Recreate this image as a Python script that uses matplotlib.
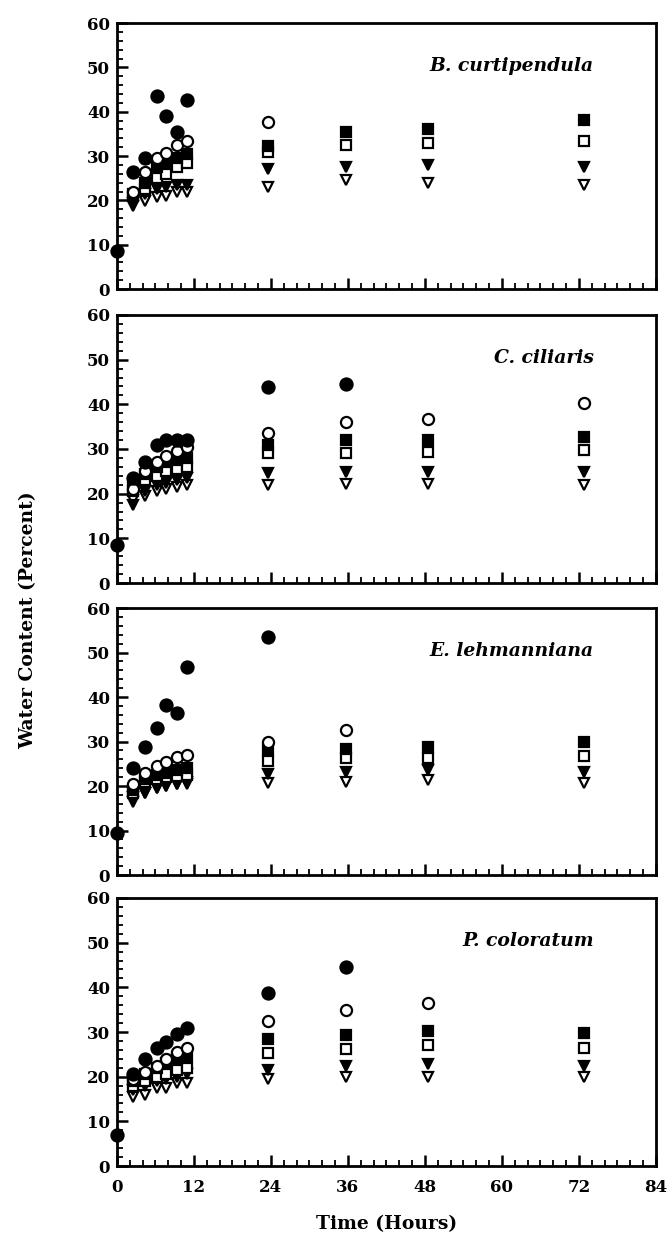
import numpy as np
import matplotlib
matplotlib.use("Agg")
import matplotlib.pyplot as plt
from matplotlib.ticker import MultipleLocator

nan = np.nan

# sampling times (hours)
hours = [0, 2.5, 4.4, 6.2, 7.6, 9.3, 11.0, 23.5, 35.7, 48.5, 72.8]

species = ["B. curtipendula", "C. ciliaris", "E. lehmanniana", "P. coloratum"]

# B. curtipendula
bc_fc = [8.5, 26.5, 29.5, 43.5, 39.0, 35.5, 42.7, nan, nan, nan, nan]
bc_oc = [nan, 22.0, 26.5, 29.5, 30.8, 32.5, 33.5, 37.7, nan, nan, nan]
bc_fs = [nan, 21.5, 24.0, 27.5, 28.5, 29.5, 30.5, 32.3, 35.5, 36.2, 38.2]
bc_os = [nan, 21.0, 22.5, 25.0, 26.0, 27.5, 28.5, 31.0, 32.5, 33.0, 33.3]
bc_ft = [nan, 18.8, 21.5, 22.5, 23.0, 23.5, 23.5, 27.0, 27.5, 28.0, 27.5]
bc_ot = [nan, 19.5, 19.8, 20.8, 21.0, 21.8, 22.0, 23.0, 24.5, 24.0, 23.5]

# C. ciliaris
cc_fc = [8.4, 23.5, 27.0, 30.8, 32.0, 32.0, 32.0, 43.9, 44.5, nan, nan]
cc_oc = [nan, 21.0, 25.0, 27.0, 28.5, 29.5, 30.5, 33.5, 36.0, 36.8, 40.4]
cc_fs = [nan, 21.5, 24.5, 26.0, 27.0, 27.5, 28.0, 31.0, 32.0, 32.1, 32.7]
cc_os = [nan, 20.5, 23.0, 24.0, 25.0, 25.5, 26.0, 29.0, 29.1, 29.4, 29.7]
cc_ft = [nan, 17.5, 20.5, 22.0, 22.5, 23.0, 23.5, 24.7, 24.9, 24.9, 24.9]
cc_ot = [nan, 18.5, 19.5, 20.5, 21.0, 21.5, 22.0, 21.9, 22.1, 22.1, 21.9]

# E. lehmanniana
el_fc = [9.5, 24.1, 28.8, 33.1, 38.3, 36.5, 46.8, 53.6, nan, nan, nan]
el_oc = [nan, 20.5, 23.0, 24.4, 25.4, 26.5, 26.9, 29.9, 32.7, nan, nan]
el_fs = [nan, 19.0, 21.5, 22.5, 23.0, 23.5, 24.0, 28.0, 28.4, 28.8, 29.9]
el_os = [nan, 18.5, 21.0, 21.5, 22.0, 22.3, 22.5, 25.6, 26.2, 26.4, 26.7]
el_ft = [nan, 16.5, 18.5, 19.5, 20.0, 20.5, 21.0, 22.8, 23.2, 23.5, 23.2]
el_ot = [nan, 17.5, 18.5, 19.5, 20.0, 20.5, 20.5, 20.7, 20.9, 21.3, 20.7]

# P. coloratum
pc_fc = [7.0, 20.6, 24.0, 26.4, 27.7, 29.6, 31.0, 38.7, 44.5, nan, nan]
pc_oc = [nan, 19.5, 21.0, 22.5, 24.0, 25.5, 26.5, 32.4, 35.0, 36.6, nan]
pc_fs = [nan, 19.0, 20.5, 22.0, 23.0, 24.0, 24.5, 28.4, 29.4, 30.3, 29.7]
pc_os = [nan, 18.0, 19.0, 20.0, 20.5, 21.5, 22.0, 25.3, 26.2, 27.1, 26.4]
pc_ft = [nan, 17.0, 18.0, 19.0, 19.5, 20.0, 20.5, 21.5, 22.4, 22.8, 22.3]
pc_ot = [nan, 15.5, 16.0, 17.5, 17.5, 18.5, 18.5, 19.5, 19.9, 20.0, 20.0]

panels = [
    (bc_ot, bc_ft, bc_os, bc_fs, bc_oc, bc_fc),
    (cc_ot, cc_ft, cc_os, cc_fs, cc_oc, cc_fc),
    (el_ot, el_ft, el_os, el_fs, el_oc, el_fc),
    (pc_ot, pc_ft, pc_os, pc_fs, pc_oc, pc_fc),
]

# marker, filled?, size  (same order as the tuples above)
styles = [("v", False, 7.5), ("v", True, 7.5), ("s", False, 6.5),
          ("s", True, 6.5), ("o", False, 8.0), ("o", True, 8.7)]

# axes boxes in figure fraction (bottom, height)
rows = [(0.7671, 0.2143), (0.5302, 0.2160), (0.2949, 0.2151), (0.0604, 0.2160)]
left, width = 0.175, 0.807

fig = plt.figure(figsize=(6.68, 12.41), dpi=100)
serif = "DejaVu Serif"

for i, (series, (bot, h)) in enumerate(zip(panels, rows)):
    ax = fig.add_axes([left, bot, width, h])
    for vals, (m, filled, ms) in zip(series, styles):
        ax.plot(hours, vals, linestyle="none", marker=m, markersize=ms,
                markerfacecolor="black" if filled else "white",
                markeredgecolor="black", markeredgewidth=1.6, clip_on=False)
    ax.set_xlim(0, 84)
    ax.set_ylim(0, 60)
    ax.xaxis.set_major_locator(MultipleLocator(12))
    ax.xaxis.set_minor_locator(MultipleLocator(2))
    ax.yaxis.set_major_locator(MultipleLocator(10))
    ax.yaxis.set_minor_locator(MultipleLocator(2))
    ax.tick_params(which="major", direction="in", length=8, width=1.8,
                   labelsize=12)
    ax.tick_params(axis="y", which="major", pad=5)
    ax.tick_params(axis="x", which="major", pad=9)
    ax.tick_params(which="minor", direction="in", length=4, width=1.3)
    for sp in ax.spines.values():
        sp.set_linewidth(2)
    for lab in ax.get_yticklabels() + ax.get_xticklabels():
        lab.set_fontweight("bold")
        lab.set_fontfamily(serif)
    if i < 3:
        ax.set_xticklabels([])
    ax.text(0.885, 0.84, species[i], transform=ax.transAxes, ha="right",
            va="center", fontsize=13.5, fontstyle="italic", fontweight="bold",
            family=serif)

fig.text(left + width / 2, 0.006, "Time (Hours)", ha="center", va="bottom",
         fontsize=13.5, fontweight="bold", family=serif)
fig.text(0.042, 0.5, "Water Content (Percent)", ha="center", va="center",
         rotation=90, fontsize=13.5, fontweight="bold", family=serif)

fig.savefig("out.png", dpi=100)
